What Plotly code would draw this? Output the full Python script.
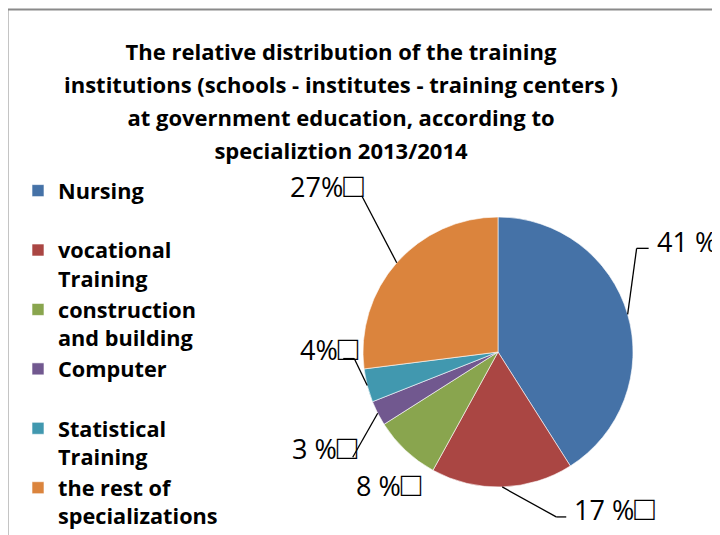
import math
import plotly.graph_objects as go

categories = ["Nursing", "vocational Training", "construction and building",
              "Computer", "Statistical Training", "the rest of specializations"]
legend_labels = ["Nursing<br>\u00a0", "vocational<br>Training", "construction<br>and building",
                 "Computer<br>\u00a0", "Statistical<br>Training", "the rest of<br>specializations"]
values = [41, 17, 8, 3, 4, 27]
value_texts = ["41 %", "17 %", "8 %", "3 %", "4%", "27%"]
colors = ["#4572A7", "#AA4643", "#89A54E", "#71588F", "#4198AF", "#DB843D"]

title_lines = ["The relative distribution of the training",
               "institutions (schools - institutes - training centers )",
               "at government education, according to",
               "specializtion 2013/2014"]

W, H = 720, 535
OFF = 8  # page offset of the figure inside the browser window
CX, CY, R = 498, 352, 135  # screen pixels

def px(x):
    return (x - OFF) / W

def py(y):
    return 1 - (y - OFF) / H

fig = go.Figure()
fig.add_trace(go.Pie(
    labels=legend_labels,
    values=values,
    sort=False,
    direction="clockwise",
    rotation=0,
    marker=dict(colors=colors, line=dict(color="white", width=0.6)),
    textinfo="none",
    hoverinfo="label+percent",
    domain=dict(x=[px(CX - R), px(CX + R)], y=[py(CY + R), py(CY - R)]),
))

# label geometry: leader-line offsets (pixels) from slice edge point, label anchor offset
layout_specs = [
    dict(pts=[(9, -66), (21, -66)], lab=(27, -75)),      # 41
    dict(pts=[(54, 30), (64, 30)], lab=(70, 20)),        # 17
    dict(pts=None, lab=None, abs=(354, 483)),            # 8
    dict(pts=[(-25, 44)], lab=(-88, 33)),                # 3
    dict(pts=[(-13, -27), (-24, -27)], lab=(-69, -39)),  # 4
    dict(pts=[(-35, -67)], lab=(-109, -79)),             # 27
]

shapes = []
annotations = []
total = sum(values)
cum = 0
for v, lab, spec in zip(values, value_texts, layout_specs):
    mid = (cum + v / 2) / total * 2 * math.pi
    cum += v
    sx = CX + R * math.sin(mid)
    sy = CY - R * math.cos(mid)
    if spec["pts"]:
        prev = (sx, sy)
        for dx, dy in spec["pts"]:
            nxt = (sx + dx, sy + dy)
            shapes.append(dict(type="line", xref="paper", yref="paper",
                               x0=px(prev[0]), y0=py(prev[1]), x1=px(nxt[0]), y1=py(nxt[1]),
                               line=dict(color="black", width=1.3)))
            prev = nxt
        lx, ly = sx + spec["lab"][0], sy + spec["lab"][1]
    else:
        lx, ly = spec["abs"]
    text = f"{lab}<span style='font-size:34px'>\u25a1</span>"
    annotations.append(dict(text=text, x=px(lx), y=py(ly), xref="paper", yref="paper",
                            xanchor="left", yanchor="middle", showarrow=False,
                            font=dict(family="Open Sans", size=27, color="black")))

# outer frame
shapes.append(dict(type="rect", xref="paper", yref="paper", x0=px(7.5), x1=1.3,
                   y0=-0.3, y1=py(9.5), line=dict(color="#8a8a8a", width=2),
                   fillcolor="rgba(0,0,0,0)"))

title_text = "<br>".join(f"<span style='font-size:22px'>{t}</span>" for t in title_lines)

fig.update_layout(
    width=W, height=H,
    margin=dict(l=0, r=0, t=0, b=0),
    paper_bgcolor="white",
    plot_bgcolor="white",
    title=dict(text=f"<b>{title_text}</b>", x=px(341), xanchor="center",
               y=py(60), yanchor="top", yref="container",
               font=dict(family="Open Sans", size=25.4, color="black")),
    legend=dict(x=px(18), y=py(170), xanchor="left", yanchor="top",
                font=dict(family="Open Sans", size=21.7, color="black", weight="bold"),
                valign="top", bgcolor="rgba(0,0,0,0)", traceorder="normal"),
    shapes=shapes,
    annotations=annotations,
)

fig.write_html("out.html")
